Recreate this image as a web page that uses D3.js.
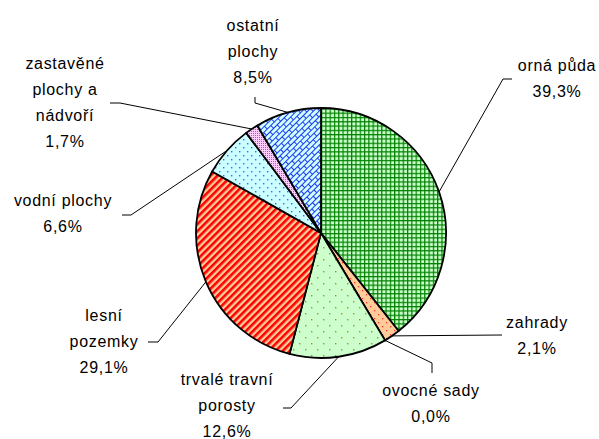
<!DOCTYPE html>
<html>
<head>
<meta charset="utf-8">
<script src="https://cdn.jsdelivr.net/npm/d3@7"></script>
<style>
  body { margin: 0; background: #fff; }
  text { font-family: "Liberation Sans", Arial, sans-serif; font-size: 16px; fill: #000; letter-spacing: 0.7px; }
</style>
</head>
<body>
<div id="chart"></div>
<script>
// data (percent of area)
var categories = ["orná půda", "zahrady", "ovocné sady", "trvalé travní porosty", "lesní pozemky", "vodní plochy", "zastavěné plochy a nádvoří", "ostatní plochy"];
var values = [39.3, 2.1, 0.0, 12.6, 29.1, 6.6, 1.7, 8.5];
var valueLabels = ["39,3%", "2,1%", "0,0%", "12,6%", "29,1%", "6,6%", "1,7%", "8,5%"];
// how each label is broken into lines
var labelLines = [
  ["orná půda"],
  ["zahrady"],
  ["ovocné sady"],
  ["trvalé travní", "porosty"],
  ["lesní", "pozemky"],
  ["vodní plochy"],
  ["zastavěné", "plochy  a", "nádvoří"],
  ["ostatní", "plochy"]
];

var width = 599, height = 439;
var cx = 321, cy = 233, radius = 125;

// label layout: x centre, y of first line, leader points after the pie edge
var layout = [
  {x: 557, y: 65,  leader: [[503, 79], [512, 79]]},
  {x: 537, y: 322, leader: [[502, 335]]},
  {x: 431, y: 390, leader: [[432, 363], [432, 373]]},
  {x: 227, y: 379, leader: [[291, 408], [283, 408]]},
  {x: 104, y: 315, leader: [[158, 342], [148, 342]]},
  {x: 63,  y: 200, leader: [[131, 215], [122, 215]]},
  {x: 65,  y: 63,  leader: [[120, 103], [110, 103]]},
  {x: 253, y: 25,  leader: [[255, 103], [255, 97]]}
];
var lineGap = 26;

var svg = d3.select("#chart").append("svg")
    .attr("width", width)
    .attr("height", height);

var defs = svg.append("defs");

// orná půda: green grid
var p0 = defs.append("pattern").attr("id", "p0").attr("patternUnits", "userSpaceOnUse")
    .attr("width", 4.3).attr("height", 4.3);
p0.append("rect").attr("width", 4.3).attr("height", 4.3).attr("fill", "#ccffcc");
p0.append("rect").attr("width", 4.3).attr("height", 1.2).attr("fill", "#008000");
p0.append("rect").attr("width", 1.2).attr("height", 4.3).attr("fill", "#008000");

// zahrady: orange with red dots
var p1 = defs.append("pattern").attr("id", "p1").attr("patternUnits", "userSpaceOnUse")
    .attr("width", 8).attr("height", 8);
p1.append("rect").attr("width", 8).attr("height", 8).attr("fill", "#ffcc99");
p1.append("rect").attr("x", 1).attr("y", 1).attr("width", 1.3).attr("height", 1.3).attr("fill", "#ff3333");
p1.append("rect").attr("x", 5).attr("y", 5).attr("width", 1.3).attr("height", 1.3).attr("fill", "#ff3333");

// trvalé travní porosty: pale green with olive dots
var p3 = defs.append("pattern").attr("id", "p3").attr("patternUnits", "userSpaceOnUse")
    .attr("width", 12).attr("height", 12);
p3.append("rect").attr("width", 12).attr("height", 12).attr("fill", "#ccffcc");
p3.append("rect").attr("x", 2).attr("y", 2).attr("width", 1.4).attr("height", 1.4).attr("fill", "#999933");
p3.append("rect").attr("x", 8).attr("y", 8).attr("width", 1.4).attr("height", 1.4).attr("fill", "#999933");

// lesní pozemky: red diagonal stripes on orange
var p4 = defs.append("pattern").attr("id", "p4").attr("patternUnits", "userSpaceOnUse")
    .attr("width", 5).attr("height", 5).attr("patternTransform", "rotate(45)");
p4.append("rect").attr("width", 5).attr("height", 5).attr("fill", "#ffcc99");
p4.append("rect").attr("width", 2.6).attr("height", 5).attr("fill", "#ff0000");

// vodní plochy: pale cyan with blue dots
var p5 = defs.append("pattern").attr("id", "p5").attr("patternUnits", "userSpaceOnUse")
    .attr("width", 8).attr("height", 8);
p5.append("rect").attr("width", 8).attr("height", 8).attr("fill", "#ccffff");
p5.append("rect").attr("x", 2).attr("y", 2).attr("width", 1.4).attr("height", 1.4).attr("fill", "#3366ff");
p5.append("rect").attr("x", 6).attr("y", 6).attr("width", 1.4).attr("height", 1.4).attr("fill", "#3366ff");

// zastavěné plochy: fine purple dots on pink
var p6 = defs.append("pattern").attr("id", "p6").attr("patternUnits", "userSpaceOnUse")
    .attr("width", 2).attr("height", 2);
p6.append("rect").attr("width", 2).attr("height", 2).attr("fill", "#ffccff");
p6.append("rect").attr("width", 1).attr("height", 1).attr("fill", "#b05aa0");

// ostatní plochy: blue diagonal bricks on pale cyan
var p7 = defs.append("pattern").attr("id", "p7").attr("patternUnits", "userSpaceOnUse")
    .attr("width", 10).attr("height", 8).attr("patternTransform", "rotate(-45)");
p7.append("rect").attr("width", 10).attr("height", 8).attr("fill", "#ccffff");
p7.append("path").attr("d", "M0,0.5H10M0,4.5H10M0.5,0V4M5.5,4V8")
    .attr("stroke", "#2233ee").attr("stroke-width", 1).attr("fill", "none");

var fills = ["url(#p0)", "url(#p1)", "#ffcc99", "url(#p3)", "url(#p4)", "url(#p5)", "url(#p6)", "url(#p7)"];

var pie = d3.pie().sort(null).value(d => d);
var arcs = pie(values);

var arc = d3.arc().innerRadius(0).outerRadius(radius);

var g = svg.append("g").attr("transform", `translate(${cx},${cy})`);

g.selectAll("path.slice")
    .data(arcs)
    .enter().append("path")
    .attr("class", "slice")
    .attr("d", arc)
    .attr("fill", (d, i) => fills[i])
    .attr("stroke", "#000")
    .attr("stroke-width", 1.8)
    .attr("stroke-linejoin", "round");

// leader lines from the middle of each slice edge
svg.append("g").selectAll("path")
    .data(arcs)
    .enter().append("path")
    .attr("d", (d, i) => {
        var a = (d.startAngle + d.endAngle) / 2;
        var pts = [[cx + radius * Math.sin(a), cy - radius * Math.cos(a)]].concat(layout[i].leader);
        return d3.line()(pts);
    })
    .attr("fill", "none")
    .attr("stroke", "#000")
    .attr("stroke-width", 1);

// labels
var labels = svg.append("g").selectAll("text")
    .data(arcs)
    .enter().append("text")
    .attr("text-anchor", "middle");

labels.each(function(d, i) {
    var t = d3.select(this);
    var lines = labelLines[i].concat([valueLabels[i]]);
    lines.forEach((s, k) => {
        t.append("tspan")
            .attr("x", layout[i].x)
            .attr("y", layout[i].y + k * lineGap)
            .attr("dy", "0.35em")
            .text(s);
    });
});
</script>
</body>
</html>
